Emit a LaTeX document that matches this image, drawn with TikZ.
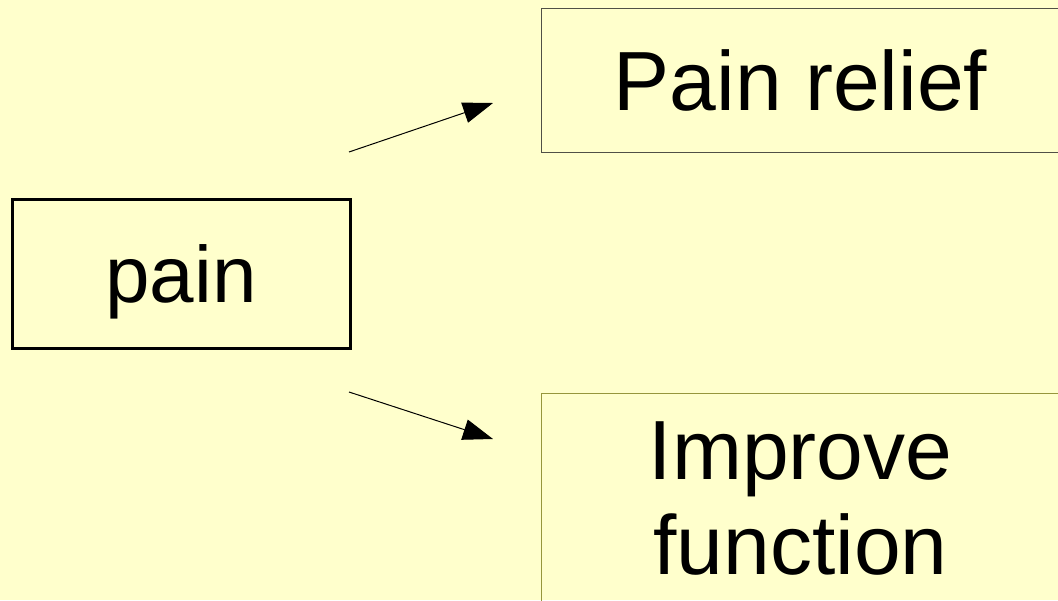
\documentclass[tikz,border=0pt]{standalone}
\usepackage{fontspec}
\setmainfont{Liberation Sans}
\usetikzlibrary{arrows.meta}
\definecolor{bg}{HTML}{FFFFCC}
\definecolor{grayline}{RGB}{80,80,70}
\definecolor{oliveline}{RGB}{150,150,60}
\tikzset{
  bigtext/.style={font=\fontsize{84}{95}\selectfont, align=center, inner sep=0pt},
  mainbox/.style={draw=black, line width=3pt, inner sep=0pt, font=\fontsize{80}{95}\selectfont},
  thinbox/.style={draw=grayline, line width=1pt, bigtext},
  olivebox/.style={draw=oliveline, line width=1pt, bigtext},
  conn/.style={line width=1pt, -{Triangle[length=30pt,width=21pt]}}
}
\begin{document}
\begin{tikzpicture}[x=1pt,y=1pt]
\fill[bg] (0,0) rectangle (1058,-600);
\useasboundingbox (0,0) rectangle (1058,-600);
\node[mainbox, minimum width=338pt, minimum height=149pt, text height=57pt, text depth=0pt] (pain) at (181,-273.5) {pain};
\node[thinbox, minimum width=519pt, minimum height=144pt, text height=60pt, text depth=0pt] (relief) at (800.5,-80) {Pain relief};
\node[olivebox, minimum width=519pt, minimum height=212pt] (improve) at (800.5,-499) {Improve\\function};
\coordinate (a1s) at (349,-152);
\coordinate (a1e) at (493,-103);
\coordinate (a2s) at (349,-392);
\coordinate (a2e) at (493,-439);
\draw[conn] (a1s) -- (a1e);
\draw[conn] (a2s) -- (a2e);
\end{tikzpicture}
\end{document}
